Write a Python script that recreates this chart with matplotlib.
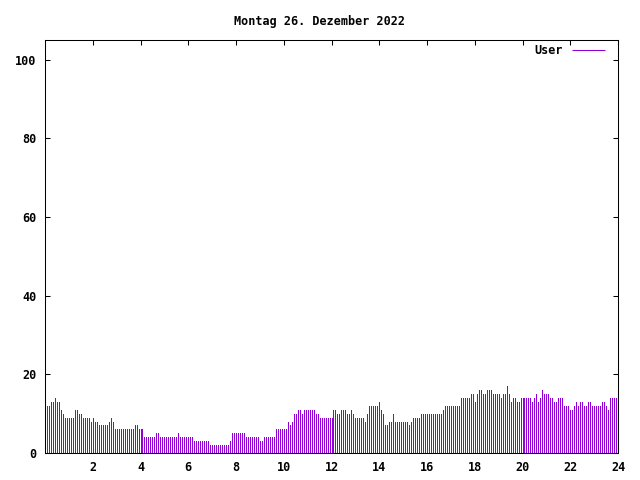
import numpy as np
from matplotlib import pyplot as plt

# Users online, one value every 5 minutes from 00:05 on,
# split into blocks of the day only to keep the lists readable.
step_minutes = 5

users_0000_0400 = [12, 12, 13, 13, 14, 13, 13, 11, 10, 9, 9, 9, 9, 9, 11, 11,
                   10, 10, 9, 9, 9, 9, 8, 9, 8, 8, 7, 7, 7, 7, 7, 8,
                   9, 8, 6, 6, 6, 6, 6, 6, 6, 6, 6, 6, 7, 7, 6, 6]
users_0400_1200 = [6, 4, 4, 4, 4, 4, 4, 5, 5, 4, 4, 4, 4, 4, 4, 4,
                   4, 4, 5, 4, 4, 4, 4, 4, 4, 4, 3, 3, 3, 3, 3, 3,
                   3, 3, 2, 2, 2, 2, 2, 2, 2, 2, 2, 2, 3, 5, 5, 5,
                   5, 5, 5, 5, 4, 4, 4, 4, 4, 4, 4, 3, 3, 4, 4, 4,
                   4, 4, 4, 6, 6, 6, 6, 6, 6, 8, 7, 8, 10, 10, 11, 11,
                   10, 11, 11, 11, 11, 11, 11, 10, 10, 9, 9, 9, 9, 9, 9, 9]
users_1200_2000 = [11, 11, 10, 10, 11, 11, 11, 10, 10, 11, 10, 9, 9, 9, 9, 9,
                   8, 10, 12, 12, 12, 12, 12, 13, 11, 10, 7, 7, 8, 8, 10, 8,
                   8, 8, 8, 8, 8, 8, 7, 8, 9, 9, 9, 9, 10, 10, 10, 10,
                   10, 10, 10, 10, 10, 10, 10, 11, 12, 12, 12, 12, 12, 12, 12, 12,
                   14, 14, 14, 14, 14, 15, 15, 13, 15, 16, 16, 15, 15, 16, 16, 16,
                   15, 15, 15, 15, 14, 15, 15, 17, 15, 13, 14, 14, 13, 13, 14, 14,
                   14]
users_2000_2400 = [14, 14, 14, 13, 14, 15, 13, 14, 16, 15, 15, 15, 14, 14, 13, 13,
                   14, 14, 14, 12, 12, 12, 11, 11, 12, 13, 12, 13, 13, 12, 12, 13,
                   13, 12, 12, 12, 12, 12, 13, 13, 12, 11, 14, 14, 14, 14]

x_ticks = [2, 4, 6, 8, 10, 12, 14, 16, 18, 20, 22, 24]
y_ticks = [0, 20, 40, 60, 80, 100]
title = "Montag 26. Dezember 2022"

FONT = dict(family="DejaVu Sans Mono", weight="bold", size=8.5)
PURPLE = "#9400d3"


def build_series():
    """
    Joins the blocks into one array of values with matching times (hours).
    """
    values = np.array(users_0000_0400 + users_0400_1200
                      + users_1200_2000 + users_2000_2400)
    times = np.arange(1, len(values) + 1) * step_minutes / 60
    return times, values


def main():
    times, values = build_series()

    fig = plt.figure(figsize=(6.4, 4.8), dpi=100)
    ax = fig.add_axes([45 / 640, 27 / 480, 573 / 640, 413 / 480])

    # impulses, like gnuplot "with impulses" (1 px wide)
    ax.vlines(times, 0, values, colors=PURPLE, linewidth=0.6,
              antialiased=False, label="User")

    ax.set_xlim(0, 24)
    ax.set_ylim(0, 105)
    ax.set_xticks(x_ticks)
    ax.set_yticks(y_ticks)
    ax.tick_params(direction="in", length=3.5, width=0.75, top=True,
                   right=True, pad=6)
    for lab in ax.get_xticklabels() + ax.get_yticklabels():
        lab.set(**FONT)
    for spine in ax.spines.values():
        spine.set_linewidth(0.75)

    leg = ax.legend(loc="upper right", bbox_to_anchor=(0.977, 0.99),
                    frameon=False, markerfirst=False, prop=FONT,
                    handlelength=2.8, handletextpad=0.75,
                    borderaxespad=0, borderpad=0)
    for h in leg.legend_handles:
        h.set_linewidth(0.75)

    fig.text(0.5, 1 - 21 / 480, title, ha="center", va="center", **FONT)
    fig.savefig("out.png", dpi=100)


if __name__ == "__main__":
    main()
